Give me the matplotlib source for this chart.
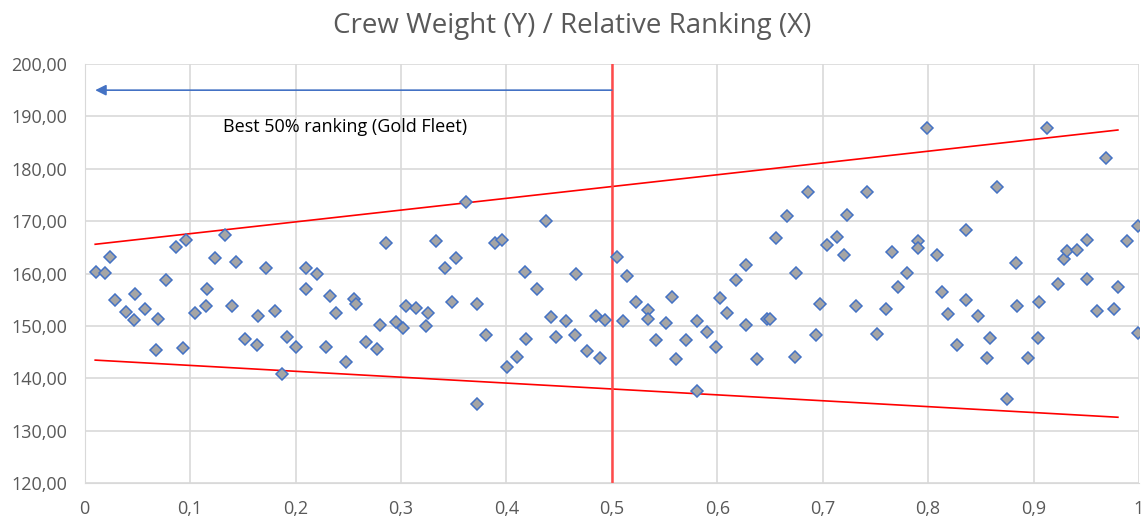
import matplotlib.pyplot as plt
from matplotlib.ticker import FuncFormatter

# relative ranking (x) and crew weight (y)
rank = [0.011, 0.019, 0.024, 0.029, 0.039, 0.047, 0.048, 0.057, 0.068, 0.070,
        0.077, 0.087, 0.093, 0.096, 0.105, 0.115, 0.116, 0.124, 0.133, 0.140,
        0.144, 0.152, 0.163, 0.164, 0.172, 0.181, 0.187, 0.192, 0.200, 0.210,
        0.210, 0.220, 0.229, 0.233, 0.238, 0.248, 0.255, 0.257, 0.267, 0.277,
        0.280, 0.286, 0.295, 0.302, 0.305, 0.314, 0.324, 0.326, 0.333, 0.342,
        0.348, 0.352, 0.362, 0.372, 0.372, 0.381, 0.389, 0.396, 0.401, 0.410,
        0.418, 0.419, 0.429, 0.438, 0.442, 0.447, 0.457, 0.465, 0.466, 0.476,
        0.485, 0.489, 0.494, 0.505, 0.511, 0.514, 0.523, 0.534, 0.534, 0.542,
        0.551, 0.557, 0.561, 0.570, 0.581, 0.581, 0.590, 0.599, 0.603, 0.609,
        0.618, 0.627, 0.627, 0.638, 0.647, 0.650, 0.656, 0.666, 0.674, 0.675,
        0.686, 0.694, 0.697, 0.704, 0.714, 0.720, 0.723, 0.732, 0.742, 0.752,
        0.760, 0.766, 0.771, 0.780, 0.790, 0.790, 0.799, 0.808, 0.813, 0.819,
        0.827, 0.836, 0.836, 0.847, 0.856, 0.859, 0.865, 0.875, 0.883, 0.884,
        0.895, 0.904, 0.905, 0.913, 0.923, 0.929, 0.932, 0.941, 0.951, 0.951,
        0.960, 0.969, 0.976, 0.980, 0.989, 0.999, 0.999]
weight = [160.4, 160.1, 163.2, 155.0, 152.7, 151.1, 156.2, 153.3, 145.5, 151.4,
          158.7, 165.0, 145.8, 166.5, 152.4, 153.8, 157.1, 162.9, 167.4, 153.8,
          162.2, 147.6, 146.3, 152.0, 161.0, 152.9, 140.9, 147.9, 146.0, 161.0,
          157.1, 159.9, 146.0, 155.7, 152.4, 143.1, 155.2, 154.2, 147.0, 145.7,
          150.2, 165.8, 150.7, 149.6, 153.9, 153.5, 150.0, 152.4, 166.2, 161.0,
          154.5, 162.9, 173.7, 154.2, 135.2, 148.2, 165.8, 166.5, 142.2, 144.0,
          160.4, 147.6, 157.1, 170.0, 151.7, 147.9, 150.9, 148.2, 159.9, 145.2,
          152.0, 143.9, 151.2, 163.2, 150.9, 159.6, 154.5, 153.0, 151.4, 147.3,
          150.6, 155.6, 143.7, 147.3, 150.9, 137.7, 148.8, 146.0, 155.3, 152.4,
          158.7, 150.2, 161.6, 143.7, 151.4, 151.4, 166.8, 171.0, 144.0, 160.1,
          175.5, 148.2, 154.2, 165.5, 166.9, 163.5, 171.2, 153.8, 175.5, 148.4,
          153.3, 164.1, 157.4, 160.1, 166.2, 164.9, 187.7, 163.5, 156.5, 152.3,
          146.3, 168.3, 155.0, 152.0, 143.9, 147.8, 176.6, 136.1, 162.0, 153.8,
          143.9, 147.8, 154.5, 187.7, 158.0, 162.8, 164.4, 164.6, 166.5, 159.0,
          152.9, 182.0, 153.3, 157.4, 166.2, 169.1, 148.7]

# envelope lines (end points)
upper_x = [0.01, 0.98]
upper_y = [165.6, 187.4]
lower_x = [0.01, 0.98]
lower_y = [143.5, 132.6]

fig = plt.figure(figsize=(11.44, 5.2), dpi=100)
ax = fig.add_axes([0.074, 0.0706, 0.9216, 0.8064])

ax.plot(rank, weight, linestyle='none', marker='D', ms=6.3,
        mfc='#a5a5a5', mec='#4472c4', mew=1.1, zorder=3)
ax.plot(upper_x, upper_y, color='#ff0000', lw=1.2, zorder=2)
ax.plot(lower_x, lower_y, color='#ff0000', lw=1.2, zorder=2)
ax.axvline(0.5, color='#ff4a4a', lw=1.8, zorder=2)

ax.annotate('', xy=(0.01, 195), xytext=(0.5, 195),
            arrowprops=dict(arrowstyle='-|>', color='#4472c4', lw=1.2,
                            mutation_scale=16, shrinkA=0, shrinkB=0))
ax.text(0.247, 188.0, 'Best 50% ranking (Gold Fleet)', ha='center', va='center',
        fontsize=13, family='Open Sans', color='black')

ax.set_xlim(0, 1)
ax.set_ylim(120, 200)
ax.set_xticks([i / 10 for i in range(11)])
ax.set_yticks(range(120, 201, 10))
ax.xaxis.set_major_formatter(FuncFormatter(
    lambda v, p: '0' if v == 0 else ('1' if v == 1 else ('%.1f' % v).replace('.', ','))))
ax.yaxis.set_major_formatter(FuncFormatter(lambda v, p: ('%.2f' % v).replace('.', ',')))
ax.grid(True, color='#d9d9d9', lw=1.2)
ax.set_axisbelow(True)
for s in ['top', 'right']:
    ax.spines[s].set_visible(False)
ax.spines['left'].set_color('#d9d9d9')
ax.spines['bottom'].set_color('#d9d9d9')
ax.tick_params(length=0, labelsize=13, labelcolor='#595959')
ax.tick_params(axis='y', pad=12.5)
ax.tick_params(axis='x', pad=12)
for lab in ax.get_xticklabels() + ax.get_yticklabels():
    lab.set_family('Open Sans')

fig.suptitle('Crew Weight (Y) / Relative Ranking (X)', y=0.977, fontsize=20,
             color='#595959', family='Open Sans')

fig.savefig('out.png', dpi=100)
